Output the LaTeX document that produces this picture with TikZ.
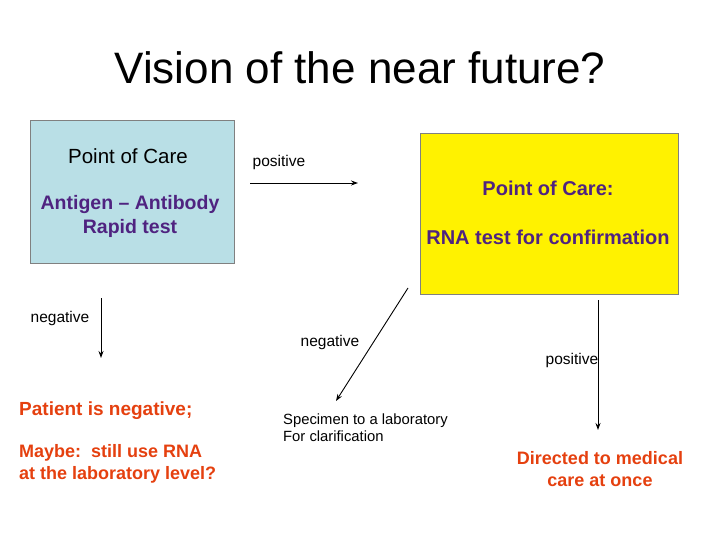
\documentclass[tikz,border=0pt]{standalone}
\usepackage{fontspec}
\usetikzlibrary{arrows.meta}
\setmainfont{Liberation Sans}
\definecolor{boxblue}{HTML}{B9DFE6}
\definecolor{purp}{HTML}{4F2380}
\definecolor{orng}{HTML}{E5400F}
\begin{document}
\begin{tikzpicture}[x=1pt,y=-1pt,
  lbl/.style={inner sep=0pt,font=\fontsize{15.5}{18}\selectfont},
  arr/.style={-{Stealth[length=7pt,width=5pt]},line width=0.9pt},
  red/.style={inner sep=0pt,text=orng,font=\bfseries\fontsize{18}{22}\selectfont}]
\useasboundingbox (0,0) rectangle (720,540);
\node (title) at (360,68) {\fontsize{44}{48}\selectfont Vision of the near future?};
\node[draw=gray,fill=boxblue,minimum width=204pt,minimum height=143pt,anchor=north west] (blue) at (30,120) {};
\node[inner sep=0pt,font=\fontsize{20.5}{24}\selectfont] (poc) at (128,156) {Point of Care};
\node[inner sep=0pt,align=center,text=purp,font=\bfseries\fontsize{19.5}{24}\selectfont] (ag) at (130,216) {Antigen – Antibody\\Rapid test};
\node[draw=gray,fill=yellow,minimum width=258pt,minimum height=161pt,anchor=north west] (yel) at (420,133) {};
\node[inner sep=0pt,text=purp,font=\bfseries\fontsize{20}{24}\selectfont] (poc2) at (548,188) {Point of Care:};
\node[inner sep=0pt,text=purp,font=\bfseries\fontsize{20}{24}\selectfont] (rna) at (548,237) {RNA test for confirmation};
\node[lbl] (pos1) at (279,162) {positive};
\coordinate (a1s) at (250,183); \coordinate (a1e) at (358,183);
\draw[arr] (a1s) -- (a1e);
\node[lbl] (neg1) at (60,318) {negative};
\coordinate (a2s) at (101,298); \coordinate (a2e) at (101,358);
\draw[arr] (a2s) -- (a2e);
\node[lbl] (neg2) at (330,342) {negative};
\coordinate (a3s) at (408,288); \coordinate (a3e) at (336,401);
\draw[arr] (a3s) -- (a3e);
\node[lbl] (pos2) at (572,360) {positive};
\coordinate (a4s) at (598,300); \coordinate (a4e) at (598,430);
\draw[arr] (a4s) -- (a4e);
\node[red,anchor=west,font=\bfseries\fontsize{19}{22}\selectfont] (pn) at (19,411) {Patient is negative;};
\node[red,anchor=west,align=left] (mb) at (19,464) {Maybe:\ \ still use RNA\\at the laboratory level?};
\node[lbl,anchor=west,align=left,font=\fontsize{14.8}{17}\selectfont] (sp) at (283,428) {Specimen to a laboratory\\For clarification};
\node[red,align=center] (dir) at (600,469) {Directed to medical\\care at once};
\end{tikzpicture}
\end{document}
